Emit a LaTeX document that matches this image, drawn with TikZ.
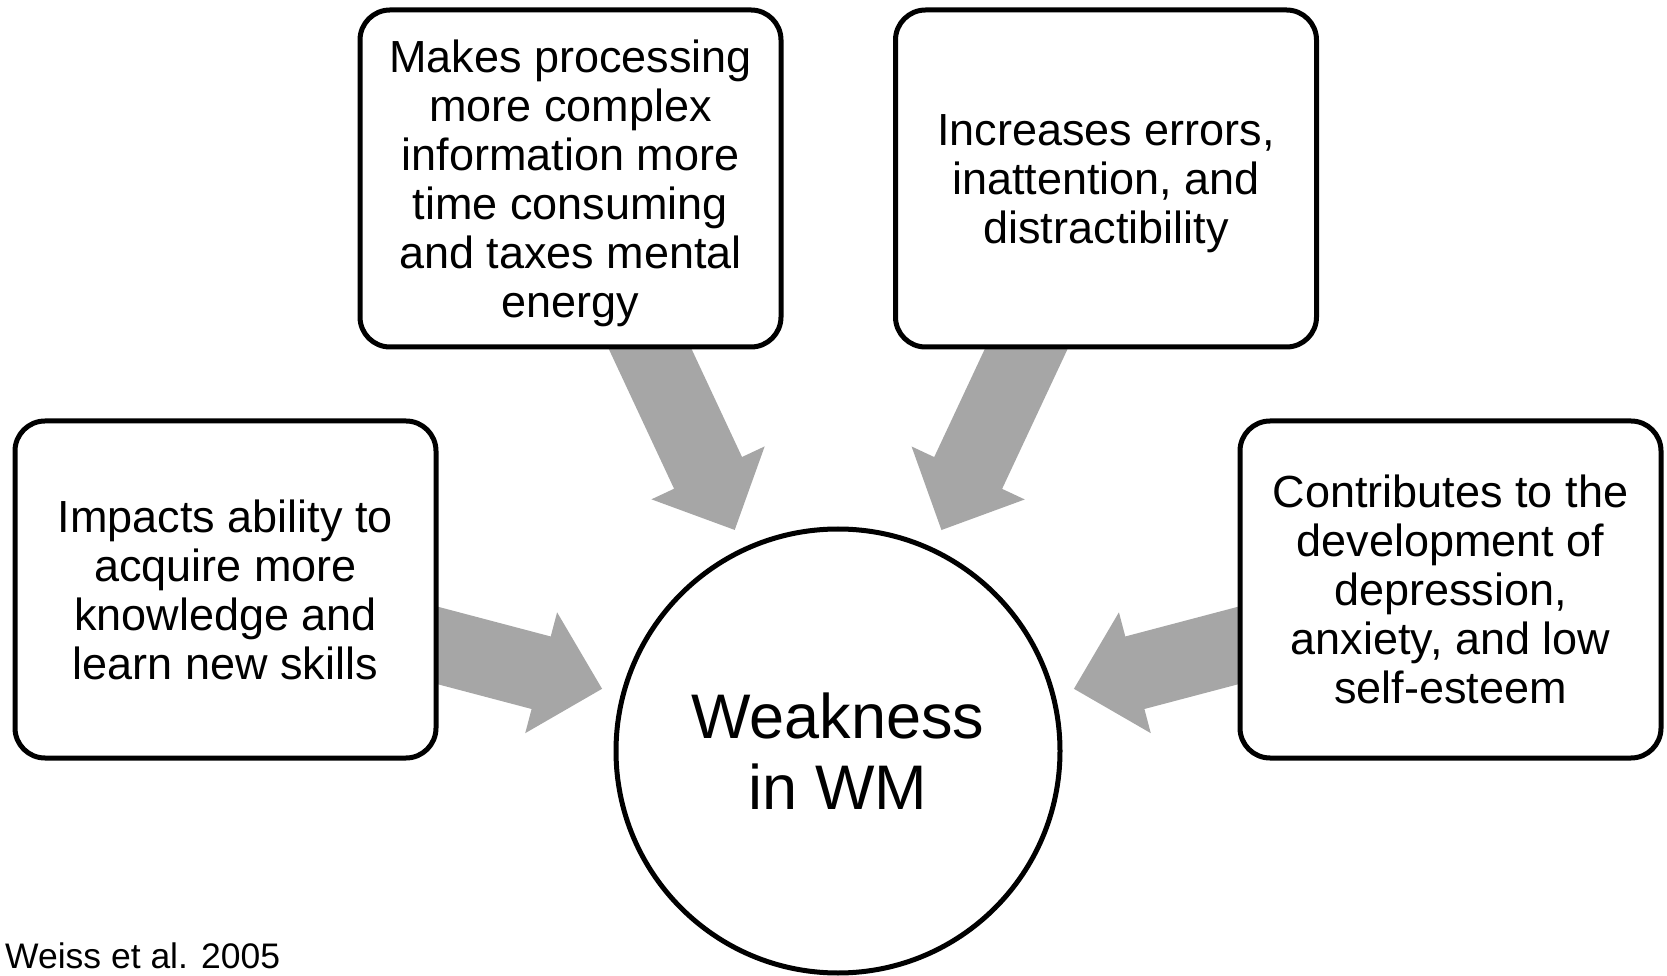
\documentclass[tikz,border=0pt]{standalone}
\usepackage{fontspec}
\setmainfont{Liberation Sans}
\usetikzlibrary{calc,backgrounds}
\definecolor{arrowgray}{RGB}{166,166,166}
\tikzset{
  box/.style={draw=black, line width=5pt, fill=white, rounded corners=30pt,
    minimum width=421pt, minimum height=337pt, inner sep=0pt},
  boxtext/.style={align=center, inner sep=0pt,
    font=\fontsize{45}{49}\selectfont, yshift=-4.75pt},
  hub/.style={circle, draw=black, line width=5pt, fill=white,
    minimum size=444pt, inner sep=0pt},
  hubtext/.style={align=center, inner sep=0pt,
    font=\fontsize{63}{71}\selectfont},
  cite/.style={inner sep=0pt, anchor=base west,
    font=\fontsize{35.5}{40}\selectfont},
  feed/.style={fill=arrowgray}
}
% block arrow running from a box centre towards the hub, tip 244pt from the hub centre
\newcommand\feedarrow[1]{%
  \coordinate (#1tip)  at ($(hub.center)!244pt!(#1.center)$);
  \coordinate (#1base) at ($(hub.center)!307pt!(#1.center)$);
  \fill[feed] (#1tip)
    -- ($(#1base)!62.5pt!90:(#1.center)$)
    -- ($(#1base)!37.5pt!90:(#1.center)$)
    -- ($(#1.center)!37.5pt!-90:(hub.center)$)
    -- ($(#1.center)!37.5pt!90:(hub.center)$)
    -- ($(#1base)!37.5pt!-90:(#1.center)$)
    -- ($(#1base)!62.5pt!-90:(#1.center)$)
    -- cycle;}
\begin{document}
\begin{tikzpicture}[x=1pt, y=1pt]
  \useasboundingbox (0,0) rectangle (1667,975);

  % central circle
  \node[hub] (hub) at (838,224) {};
  \node[hubtext] (hubtxt) at (hub.center) {Weakness\\in WM};

  % surrounding boxes
  \node[box] (L)  at (225.5,385.5) {};
  \node[box] (TL) at (570.5,796.5) {};
  \node[box] (TR) at (1106,796.5) {};
  \node[box] (R)  at (1450.5,385.5) {};

  \node[boxtext] (Ltxt) at (L.center)
    {Impacts ability to\\acquire more\\knowledge and\\learn new skills\vphantom{g}};
  \node[boxtext] (TLtxt) at (TL.center)
    {Makes processing\\more complex\\information more\\time consuming\\and taxes mental\\energy\vphantom{g}};
  \node[boxtext] (TRtxt) at (TR.center)
    {Increases errors,\\inattention, and\\distractibility\vphantom{g}};
  \node[boxtext] (Rtxt) at (R.center)
    {Contributes to the\\development of\\depression,\\anxiety, and low\\self-esteem\vphantom{g}};

  % arrows behind the boxes
  \begin{pgfonlayer}{background}
    \feedarrow{L}
    \feedarrow{TL}
    \feedarrow{TR}
    \feedarrow{R}
  \end{pgfonlayer}

  % source note
  \node[cite] (src) at (5,7) {Weiss et al. 2005};
\end{tikzpicture}
\end{document}
